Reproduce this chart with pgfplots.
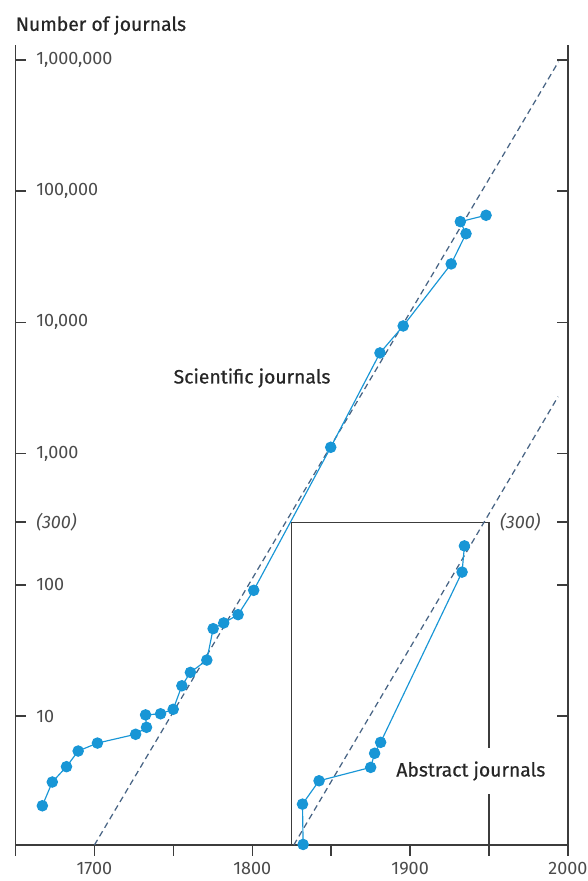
\documentclass[border=0pt]{standalone}
\usepackage{fontspec}
\setmainfont{Fira Sans}
\newfontfamily\medfont{Fira Sans}[FakeBold=0.5]
\usepackage{pgfplots}
\pgfplotsset{compat=1.18}
\definecolor{dotblue}{RGB}{24,150,214}
\definecolor{dashcol}{RGB}{72,100,132}
\definecolor{axisgray}{RGB}{60,60,60}
\definecolor{txtgray}{RGB}{75,75,75}

\begin{document}
\begin{tikzpicture}
\useasboundingbox (-9.3pt,-21.6pt) rectangle (343.5pt,507pt);
\begin{axis}[
  at={(0pt,0pt)}, anchor=south west,
  scale only axis, width=331.5pt, height=480pt,
  xmin=1650, xmax=2000,
  ymode=log, ymin=1.04, ymax=1.3e6,
  axis x line*=bottom, axis y line*=box,
  axis line style={axisgray, line width=0.9pt},
  tick style={axisgray, line width=0.9pt},
  tick align=inside,
  major tick length=6.5pt,
  x tick style={yshift=-6.5pt},
  xtick={1650,1700,...,2000},
  xticklabels={,1700,,1800,,1900,,2000},
  xticklabel style={yshift=-7pt},
  ytick={10,100,300,1000,10000,100000,1000000},
  yticklabels={10,100,\itshape(300),{1,000},{10,000},{100,000},{1,000,000}},
  yticklabel pos=left,
  yticklabel style={anchor=west, xshift=9pt},
  ticklabel style={font=\fontsize{10.8}{12}\selectfont, text=txtgray},
  xminorticks=false, yminorticks=false,
  clip=false,
]
% box marking the 300-journal threshold
\draw[axisgray, line width=0.8pt] (axis cs:1825,1.04) |- (axis cs:1950,300) -- (axis cs:1950,1.04);

% trend lines
\addplot[dashcol, line width=0.75pt, dash pattern=on 3.6pt off 2.4pt] coordinates {(1700,1.04) (1994,9.7e5)};
\addplot[dashcol, line width=0.75pt, dash pattern=on 3.6pt off 2.4pt] coordinates {(1826.3,1.04) (1993.7,2715)};

% scientific journals
\addplot[dotblue, line width=0.7pt, mark=*, mark size=3.1pt, mark options={solid, fill=dotblue, draw=dotblue}] coordinates {
  (1667.0,2.07) (1673.3,3.14) (1682.3,4.11) (1689.7,5.41) (1701.9,6.22)
  (1726.1,7.26) (1733.0,8.20) (1732.4,10.2) (1741.9,10.4) (1749.9,11.25)
  (1755.4,17.0) (1760.8,21.5) (1771.2,26.7) (1775.2,46.3) (1781.9,51.2)
  (1791.0,59.2) (1800.9,90.8) (1849.7,1117) (1880.9,5850) (1895.6,9390)
  (1926.0,27900) (1935.4,47400) (1931.8,58600) (1948.1,65500)
};

% abstract journals
\addplot[dotblue, line width=0.7pt, mark=*, mark size=3.1pt, mark options={solid, fill=dotblue, draw=dotblue}] coordinates {
  (1832.2,1.05) (1831.8,2.13) (1842.3,3.21) (1875.0,4.06) (1877.5,5.2)
  (1881.3,6.3) (1932.9,125) (1934.4,198)
};

\node[anchor=west, inner sep=0pt, font=\fontsize{11.6}{13}\medfont, text=black!85] at (axis cs:1750,3770) {Scientific journals};
\node[anchor=west, fill=white, inner xsep=1pt, inner ysep=8pt, font=\fontsize{11.6}{13}\medfont, text=black!85] at (axis cs:1890,3.81) {Abstract journals};
\node[anchor=east, xshift=-13pt, font=\fontsize{10.8}{12}\selectfont\itshape, text=txtgray] at (axis cs:2000,300) {(300)};
\end{axis}
\node[anchor=base west, inner sep=0pt, font=\fontsize{11.6}{13}\medfont, text=black!85] at (0pt,488.5pt) {Number of journals};
\end{tikzpicture}
\end{document}
